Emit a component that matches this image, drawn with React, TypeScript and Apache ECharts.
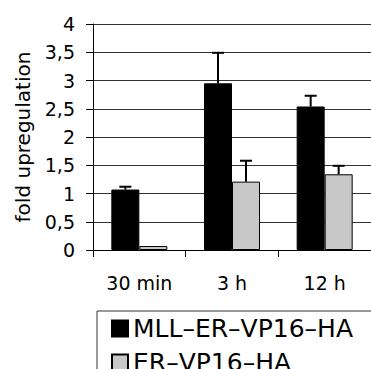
import React, { useEffect, useRef } from "react";
import * as echarts from "echarts";

const categories = ["30 min", "3 h", "12 h"];
const seriesNames = ["MLL–ER–VP16–HA", "ER–VP16–HA"];
const mllValues = [1.07, 2.95, 2.54];
const mllErrorTops = [1.12, 3.49, 2.73];
const erValues = [0.07, 1.21, 1.34];
const erErrorTops = [0.07, 1.58, 1.49];
const yTickLabels = ["0", "0,5", "1", "1,5", "2", "2,5", "3", "3,5", "4"];

const FONT = "DejaVu Sans";

export default function App() {
  const ref = useRef<HTMLDivElement>(null);
  useEffect(() => {
    if (!ref.current) return;
    const chart = echarts.init(ref.current, undefined, { renderer: "svg" });
    const barWidth = 28;
    const makeErr = (tops: number[], vals: number[], offset: number) => ({
      type: "custom",
      silent: true,
      z: 5,
      data: vals.map((v, i) => [i, v, tops[i]]),
      renderItem: (params: any, api: any) => {
        const p1 = api.coord([api.value(0), api.value(1)]);
        const p2 = api.coord([api.value(0), api.value(2)]);
        if (Math.abs(p1[1] - p2[1]) < 0.5) return { type: "group", children: [] };
        const cx = p1[0] + offset;
        return {
          type: "group",
          children: [
            {
              type: "line",
              shape: { x1: cx, y1: p1[1], x2: cx, y2: p2[1] },
              style: { stroke: "#000", lineWidth: 2 },
            },
            {
              type: "line",
              shape: { x1: cx - 6, y1: p2[1], x2: cx + 6, y2: p2[1] },
              style: { stroke: "#000", lineWidth: 2 },
            },
          ],
        };
      },
    });
    chart.setOption({
      animation: false,
      textStyle: { fontFamily: FONT },
      grid: { left: 93, top: 24, right: -10, bottom: 119, containLabel: false },
      legend: {
        data: seriesNames,
        orient: "vertical",
        left: 97,
        top: 311,
        height: 120,
        padding: [5, 20, 10, 14],
        borderColor: "#333",
        borderWidth: 1,
        borderRadius: 0,
        itemWidth: 16,
        itemHeight: 16,
        itemGap: 9,
        selectedMode: false,
        icon: "rect",
        textStyle: { fontSize: 25, color: "#000", fontFamily: FONT },
      },
      xAxis: {
        type: "category",
        data: categories,
        axisLine: { lineStyle: { color: "#000", width: 1 } },
        axisTick: { show: true, length: 7, lineStyle: { color: "#000" } },
        axisLabel: { fontSize: 19, color: "#000", margin: 23, fontFamily: FONT },
      },
      yAxis: {
        type: "value",
        min: 0,
        max: 4,
        interval: 0.5,
        name: "fold upregulation",
        nameLocation: "middle",
        nameGap: 60,
        nameTextStyle: { fontSize: 20, color: "#000", fontFamily: FONT },
        axisLine: { show: true, lineStyle: { color: "#000", width: 1 } },
        axisTick: { show: true, length: 7, lineStyle: { color: "#000" } },
        axisLabel: {
          fontSize: 19,
          color: "#000",
          margin: 18,
          fontFamily: FONT,
          formatter: (_v: number, i: number) => yTickLabels[i],
        },
        splitLine: { show: true, lineStyle: { color: "#333", width: 1 } },
      },
      series: [
        {
          name: seriesNames[0],
          type: "bar",
          data: mllValues,
          barWidth,
          barGap: "0%",
          itemStyle: { color: "#000", borderColor: "#000", borderWidth: 1 },
        },
        {
          name: seriesNames[1],
          type: "bar",
          data: erValues,
          barWidth,
          barGap: "0%",
          itemStyle: { color: "#c8c8c8", borderColor: "#000", borderWidth: 1 },
        },
        makeErr(mllErrorTops, mllValues, -barWidth / 2),
        makeErr(erErrorTops, erValues, barWidth / 2),
      ],
    });
    return () => chart.dispose();
  }, []);
  return (
    <div
      ref={ref}
      style={{ position: "fixed", left: 0, top: 0, width: 371, height: 369, background: "#fff" }}
    />
  );
}
